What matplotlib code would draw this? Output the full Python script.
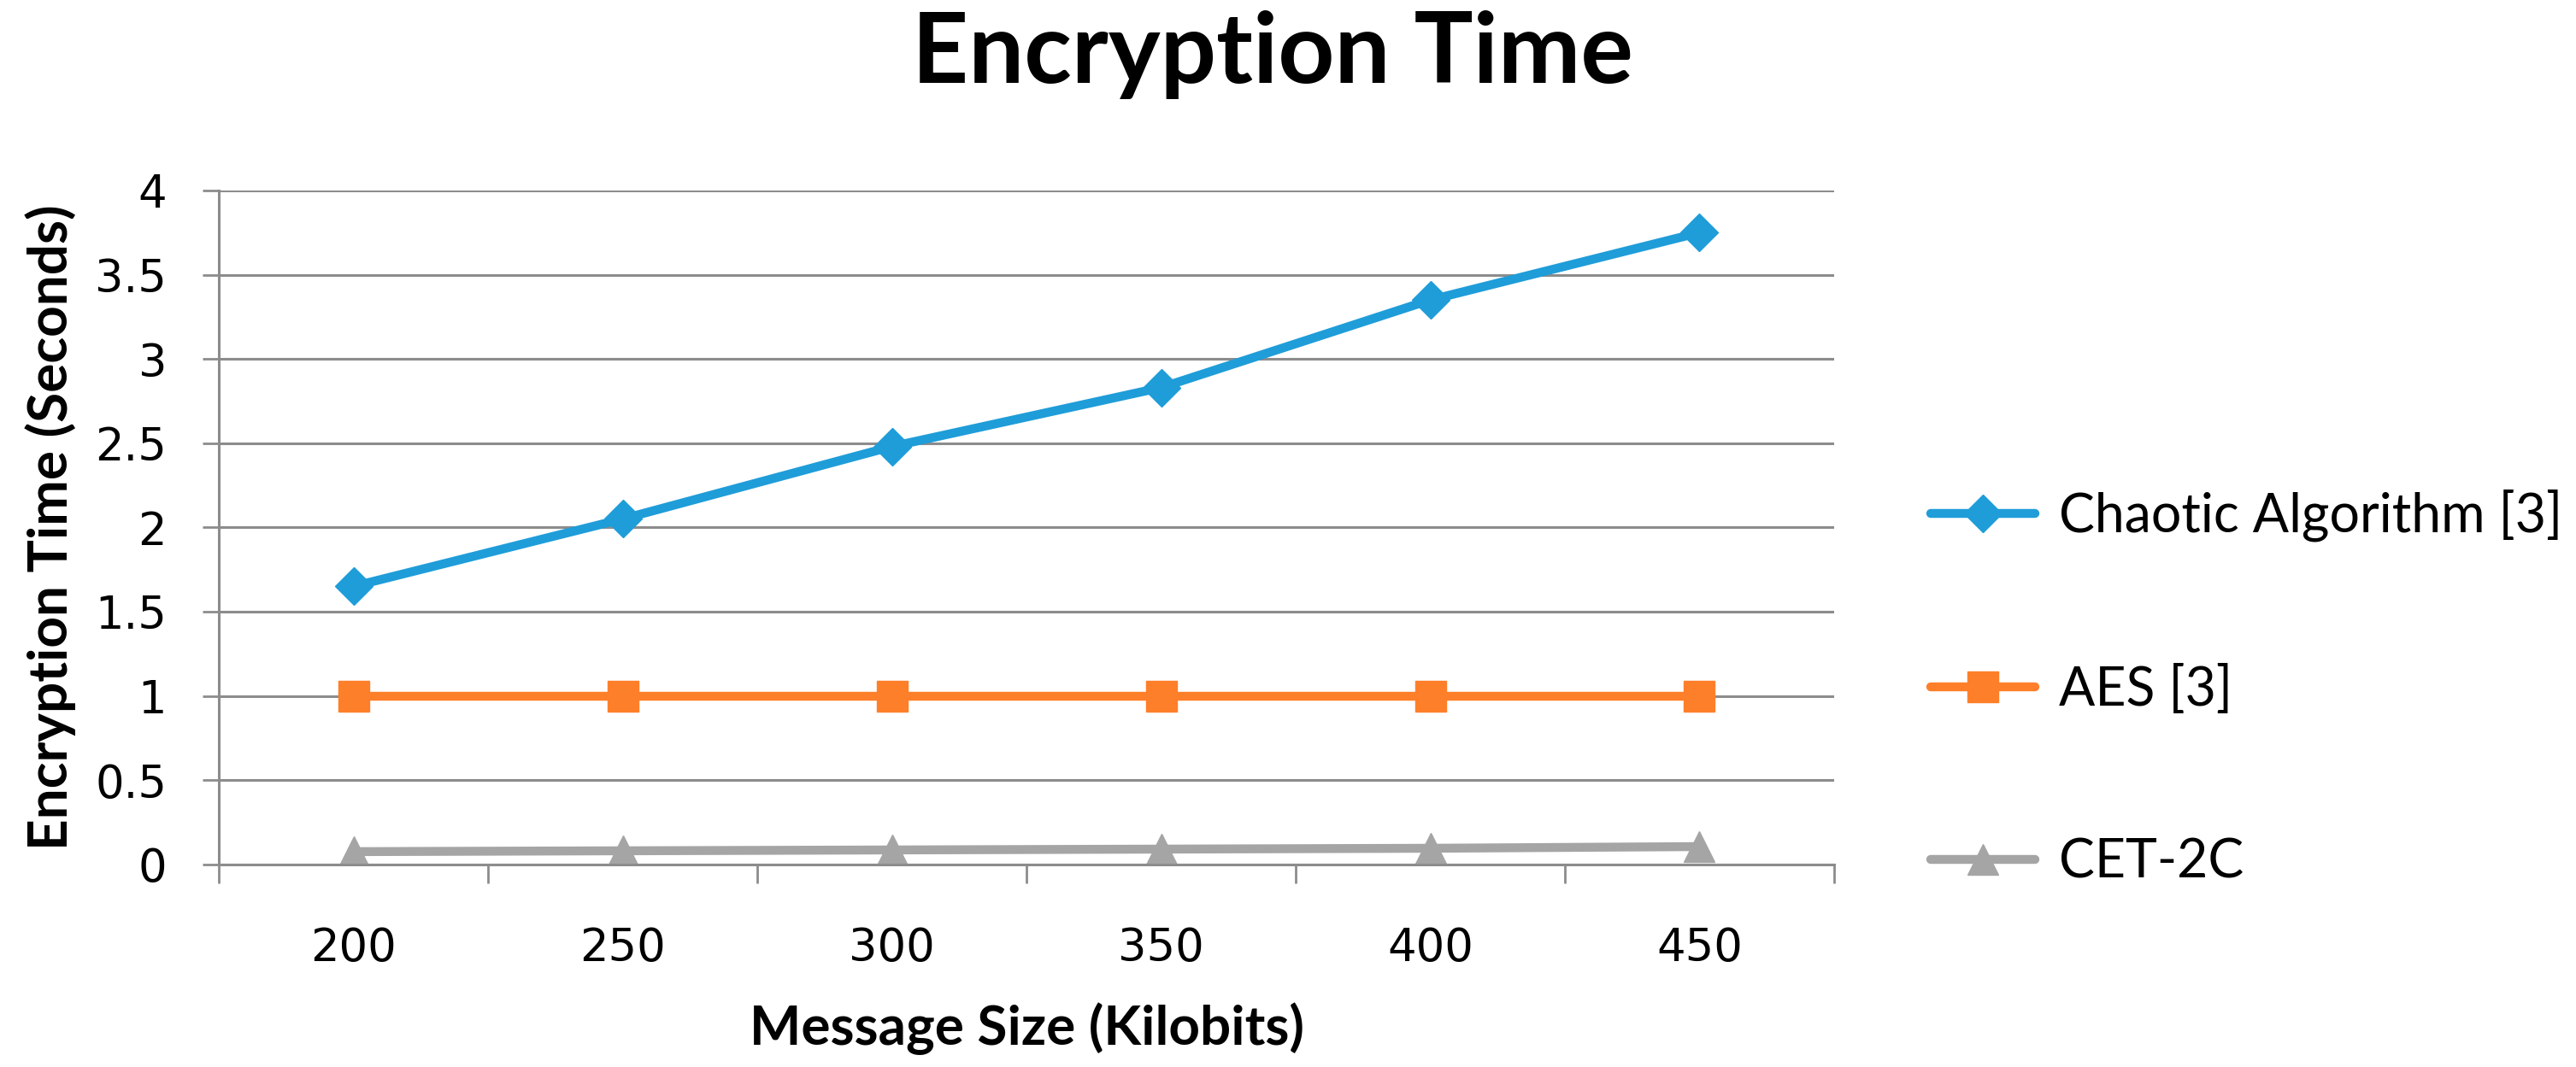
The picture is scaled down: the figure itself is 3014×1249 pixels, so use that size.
import numpy as np
import matplotlib.pyplot as plt
from matplotlib.ticker import FixedLocator

# Dati
message_size = [200, 250, 300, 350, 400, 450]
chaotic = [1.65, 2.05, 2.48, 2.83, 3.35, 3.75]
aes = [1.0, 1.0, 1.0, 1.0, 1.0, 1.0]
cet_2c = [0.075, 0.08, 0.085, 0.09, 0.095, 0.105]
y_ticks = [0, 0.5, 1, 1.5, 2, 2.5, 3, 3.5, 4]
y_labels = ['0', '0.5', '1', '1.5', '2', '2.5', '3', '3.5', '4']

grid_col = '#8c8c8c'
text_font = ['Lato', 'DejaVu Sans']

fig = plt.figure(figsize=(30.14, 12.49), dpi=100)
ax = fig.add_axes([0.085, 0.19, 0.627, 0.6315])

x = np.arange(len(message_size))
ax.plot(x, chaotic, color='#1f9dd9', lw=7.5, marker='D', ms=22, label='Chaotic Algorithm [3]',
        solid_capstyle='round')
ax.plot(x, aes, color='#fe7f2a', lw=7.5, marker='s', ms=26, label='AES [3]', solid_capstyle='round')
ax.plot(x, cet_2c, color='#a5a5a5', lw=7.5, marker='^', ms=26, label='CET-2C', solid_capstyle='round')

ax.set_xlim(-0.5, len(message_size) - 0.5)
ax.set_ylim(0, 4)

# Griglia orizzontale
ax.set_yticks(y_ticks)
ax.set_yticklabels(y_labels, fontsize=38, family='DejaVu Sans')
ax.yaxis.grid(True, color=grid_col, lw=2.2)
ax.set_axisbelow(True)
ax.tick_params(axis='y', length=14, width=2, color=grid_col, pad=30)

# Assi x: etichette al centro, tacche ai bordi
ax.set_xticks(x)
ax.set_xticklabels([str(v) for v in message_size], fontsize=38, family='DejaVu Sans')
ax.xaxis.set_minor_locator(FixedLocator(np.arange(-0.5, len(message_size), 1.0)))
ax.tick_params(axis='x', which='major', length=0, pad=52)
ax.tick_params(axis='x', which='minor', length=16, width=2, color=grid_col)

for s in ['top', 'right']:
    ax.spines[s].set_visible(False)
ax.spines['left'].set_color(grid_col)
ax.spines['left'].set_linewidth(2.2)
ax.spines['bottom'].set_color(grid_col)
ax.spines['bottom'].set_linewidth(2.2)

ax.set_xlabel('Message Size (Kilobits)', fontsize=46, fontweight='bold', family=text_font, labelpad=27)
ax.set_ylabel('Encryption Time (Seconds)', fontsize=46, fontweight='bold', family=text_font, labelpad=16)
fig.suptitle('Encryption Time', fontsize=83, fontweight='bold', family=text_font, x=0.494, y=0.99)

fig.legend(loc='center left', bbox_to_anchor=(0.731, 0.355), frameon=False,
           prop={'family': text_font, 'size': 45}, handlelength=1.95, handletextpad=0.45,
           labelspacing=2.3)

fig.savefig('out.png', dpi=100)
